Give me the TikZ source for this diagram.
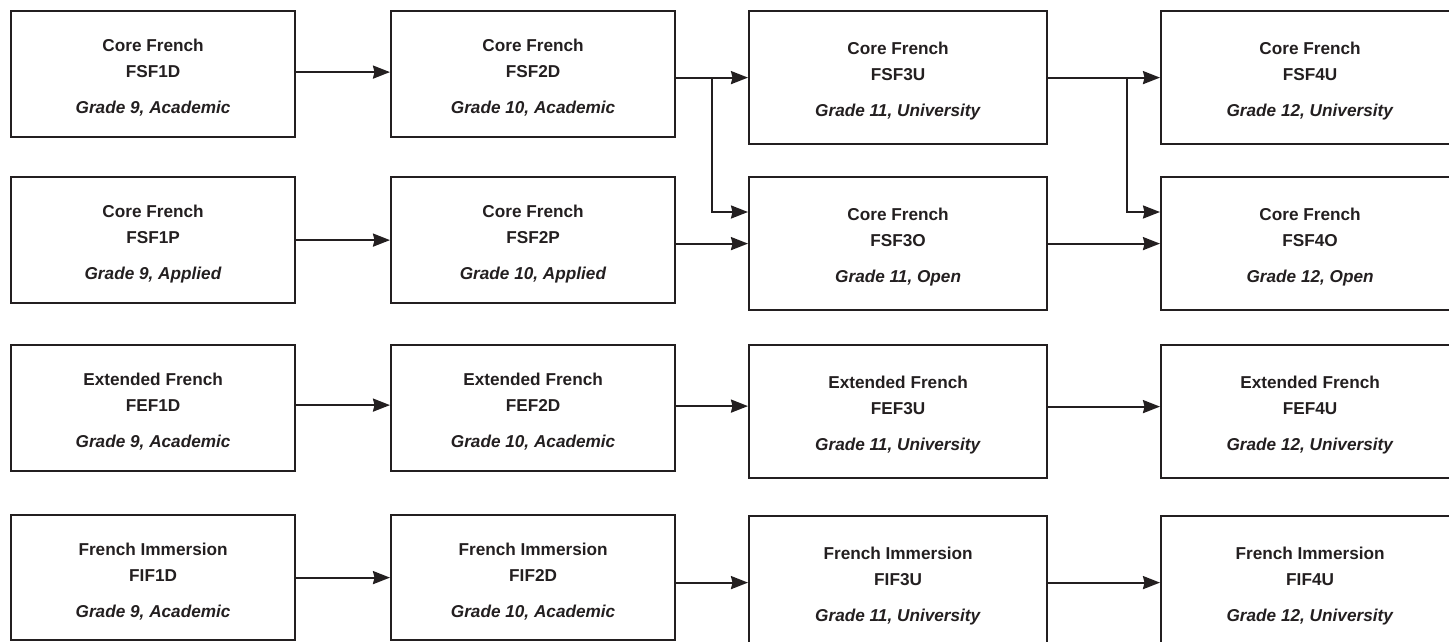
\documentclass[tikz,border=0pt]{standalone}
\usepackage{fontspec}
\setmainfont{Liberation Sans}
\usetikzlibrary{arrows.meta,calc}
\definecolor{ink}{RGB}{35,31,32}
\newcommand{\topstrut}{\rule{0pt}{20pt}}
\begin{document}
\begin{tikzpicture}[x=1pt,y=-1pt,
  box/.style={draw=ink, text=ink, line width=2.2pt, minimum height=126pt, minimum width=284pt,
    anchor=north west, align=center, inner sep=0pt,
    font=\fontsize{17.2}{26}\selectfont\bfseries},
  wbox/.style={box, minimum width=298pt, minimum height=133pt},
  arr/.style={line width=2.2pt, draw=ink, -{Stealth[length=17pt,width=13pt,inset=1.5pt]}}]
\useasboundingbox (0,0) rectangle (1449,641);
\clip (0,0) rectangle (1449,641);
% row 1
\node[box]  (a1) at (10,10)   {\topstrut Core French\\FSF1D\\[10pt]\textit{Grade 9, Academic}};
\node[box]  (a2) at (390,10)  {\topstrut Core French\\FSF2D\\[10pt]\textit{Grade 10, Academic}};
\node[wbox] (a3) at (748,10)  {\topstrut Core French\\FSF3U\\[10pt]\textit{Grade 11, University}};
\node[wbox] (a4) at (1160,10) {\topstrut Core French\\FSF4U\\[10pt]\textit{Grade 12, University}};
% row 2
\node[box]  (b1) at (10,176)   {\topstrut Core French\\FSF1P\\[10pt]\textit{Grade 9, Applied}};
\node[box]  (b2) at (390,176)  {\topstrut Core French\\FSF2P\\[10pt]\textit{Grade 10, Applied}};
\node[wbox] (b3) at (748,176)  {\topstrut Core French\\FSF3O\\[10pt]\textit{Grade 11, Open}};
\node[wbox] (b4) at (1160,176) {\topstrut Core French\\FSF4O\\[10pt]\textit{Grade 12, Open}};
% row 3
\node[box]  (c1) at (10,344)   {\topstrut Extended French\\FEF1D\\[10pt]\textit{Grade 9, Academic}};
\node[box]  (c2) at (390,344)  {\topstrut Extended French\\FEF2D\\[10pt]\textit{Grade 10, Academic}};
\node[wbox] (c3) at (748,344)  {\topstrut Extended French\\FEF3U\\[10pt]\textit{Grade 11, University}};
\node[wbox] (c4) at (1160,344) {\topstrut Extended French\\FEF4U\\[10pt]\textit{Grade 12, University}};
% row 4
\node[box, minimum height=125pt]  (d1) at (10,514)   {\topstrut French Immersion\\FIF1D\\[10pt]\textit{Grade 9, Academic}};
\node[box, minimum height=125pt]  (d2) at (390,514)  {\topstrut French Immersion\\FIF2D\\[10pt]\textit{Grade 10, Academic}};
\node[wbox] (d3) at (748,515)  {\topstrut French Immersion\\FIF3U\\[10pt]\textit{Grade 11, University}};
\node[wbox] (d4) at (1160,515) {\topstrut French Immersion\\FIF4U\\[10pt]\textit{Grade 12, University}};
% junction points
\coordinate (j1) at ($(a2.east)!0.5!(a3.west)$);
\coordinate (j2) at ([xshift=-33pt]a4.west);
% arrows row 1 and branches
\draw[arr] ([yshift=2pt]a1.east) -- ([yshift=2pt]a1.east -| a2.west);
\draw[arr] (a2.east |- a3.west) -- (a3.west);
\draw[arr] (j1 |- a3.west) |- ([yshift=-36pt]b3.north west);
\draw[arr] (a3.east) -- (a4.west);
\draw[arr] (j2 |- a4.west) |- ([yshift=-36pt]b4.north west);
% row 2
\draw[arr] (b1.east) -- (b1.east -| b2.west);
\draw[arr] (b2.east |- b3.west) -- (b3.west);
\draw[arr] (b3.east) -- (b4.west);
% row 3
\draw[arr] ([yshift=3pt]c1.east) -- ([yshift=3pt]c1.east -| c2.west);
\draw[arr] ([yshift=2pt]c2.east) -- ([yshift=2pt]c2.east -| c3.west);
\draw[arr] ([yshift=5pt]c3.east) -- ([yshift=5pt]c3.east -| c4.west);
% row 4
\draw[arr] (d1.east) -- (d1.east -| d2.west);
\draw[arr] (d2.east |- d3.west) -- (d3.west);
\draw[arr] (d3.east) -- (d4.west);
\end{tikzpicture}
\end{document}
